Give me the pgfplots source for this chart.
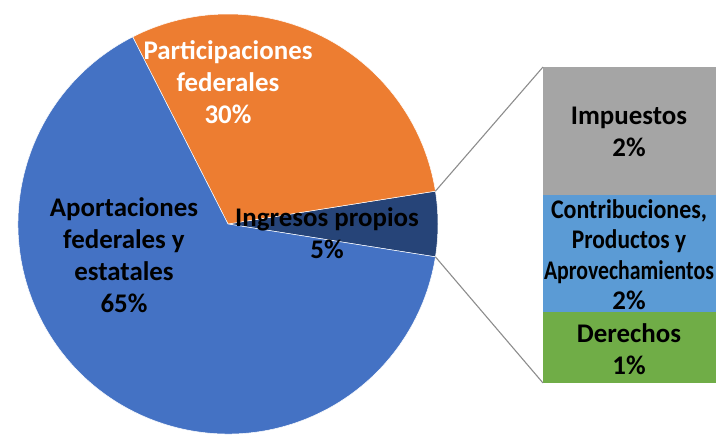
\documentclass[border=0pt]{standalone}
\usepackage{pgfplots}
\pgfplotsset{compat=1.18}
\usepackage{fontspec}
\setmainfont{Carlito}

\definecolor{aportcol}{HTML}{4472C4}
\definecolor{partcol}{HTML}{ED7D31}
\definecolor{ingcol}{HTML}{264478}
\definecolor{impcol}{HTML}{A5A5A5}
\definecolor{concol}{HTML}{5B9BD5}
\definecolor{dercol}{HTML}{70AD47}
\definecolor{linkcol}{HTML}{8C8C8C}

% pie shares (percent)
\def\ing{5}
\def\part{30}
\def\aport{65}
% angles of the slice edges, first slice centred on 0 deg
\pgfmathsetmacro\aA{-1.8*\ing}
\pgfmathsetmacro\aB{\aA+3.6*\ing}
\pgfmathsetmacro\aC{\aB+3.6*\part}
\pgfmathsetmacro\aD{\aC+3.6*\aport}

\begin{document}
\begin{tikzpicture}
\tikzset{lab/.style={align=center, font=\fontsize{27}{32}\selectfont\bfseries}}
% breakdown bar of "Ingresos propios"
\begin{axis}[
    at={(543bp,52bp)}, anchor=south west,
    scale only axis, width=173bp, height=316bp,
    xmin=0, xmax=1, ymin=0, ymax=5,
    hide axis, clip=false,
    ybar stacked, bar width=1
]
\addplot[fill=dercol, draw=none] coordinates {(0.5,1.12)};
\addplot[fill=concol, draw=none] coordinates {(0.5,1.85)};
\addplot[fill=impcol, draw=none] coordinates {(0.5,2.03)};
\end{axis}

% pie, in pixel units
\begin{axis}[
    at={(0,0)}, anchor=south west,
    scale only axis, width=718bp, height=435bp,
    xmin=0, xmax=718, ymin=0, ymax=435,
    hide axis, clip=false
]
\fill[ingcol, draw=white, line width=0.5pt] (axis cs:228,211) -- ++(\aA:210bp)
    arc[start angle=\aA, end angle=\aB, radius=210bp] -- cycle;
\fill[partcol, draw=white, line width=0.5pt] (axis cs:228,211) -- ++(\aB:210bp)
    arc[start angle=\aB, end angle=\aC, radius=210bp] -- cycle;
\fill[aportcol, draw=white, line width=0.5pt] (axis cs:228,211) -- ++(\aC:210bp)
    arc[start angle=\aC, end angle=\aD, radius=210bp] -- cycle;
% connector lines to the bar
\draw[linkcol, line width=1.1pt] (axis cs:228,211) ++(\aB:210bp) -- (axis cs:543,368);
\draw[linkcol, line width=1.1pt] (axis cs:228,211) ++(\aA:210bp) -- (axis cs:543,52);
\node[lab, white] at (axis cs:228,353) {Participaciones\\federales\\30\%};
\node[lab] at (axis cs:124,180) {Aportaciones\\federales y\\estatales\\65\%};
\node[lab] at (axis cs:327,202) {Ingresos propios\\5\%};
\node[lab] at (axis cs:629,86) {Derechos\\1\%};
\node[lab, font=\fontsize{27}{30.5}\selectfont\bfseries] at (axis cs:629,180.5)
    {\scalebox{0.89}[1]{Contribuciones,}\\\scalebox{0.87}[1]{Productos y}\\
     \scalebox{0.81}[1]{Aprovechamientos}\\2\%};
\node[lab] at (axis cs:629,303) {Impuestos\\2\%};
\end{axis}
\pgfresetboundingbox
\path (0,0) rectangle (718bp,435bp);
\end{tikzpicture}
\end{document}
